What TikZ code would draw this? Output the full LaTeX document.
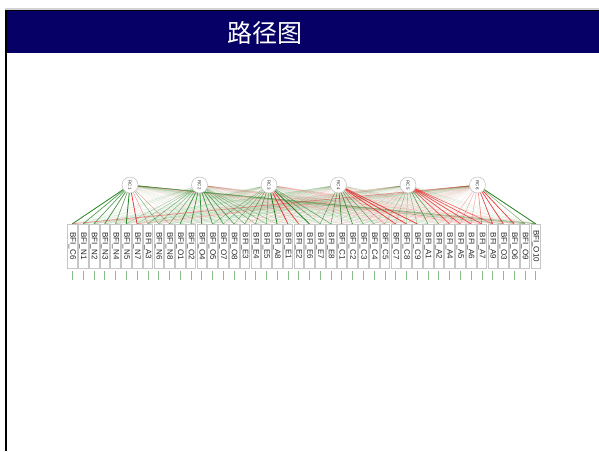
\documentclass[tikz,border=0pt]{standalone}
\usepackage{fontspec}
\setmainfont{Liberation Sans}
\newfontfamily\cjk{Noto Sans CJK SC}
\usetikzlibrary{backgrounds}
\definecolor{navy}{RGB}{6,0,102}
\definecolor{posc}{RGB}{20,125,20}
\definecolor{negc}{RGB}{232,30,30}
\tikzset{
  itembox/.style={draw=gray!45, fill=white, minimum width=9.6pt, minimum height=44pt, inner sep=0pt,
    font=\fontsize{8}{8}\selectfont, text=black!85},
  rcnode/.style={circle, draw=gray!60, fill=white, minimum size=16pt, inner sep=0pt,
    font=\fontsize{4.5}{4.5}\selectfont, text=black!80},
  resid/.style={posc, opacity=0.5, line width=0.5pt},
  weak/.style={line width=0.4pt}
}
\begin{document}
\begin{tikzpicture}[x=1pt,y=-1pt]
\useasboundingbox (0,0) rectangle (599,451);
% frame and title bar
\fill[gray!35] (5,8.4) rectangle (599,9.5);
\fill[black] (5,9.5) rectangle (599,11.3);
\fill[navy] (7,11.3) rectangle (599,52.7);
\fill[black] (5,9.5) rectangle (7,451);
\node[text=white, font=\cjk\fontsize{25}{25}\selectfont] (title) at (265,32.5) {路径图};
% latent nodes
\foreach \i/\x in {1/130,2/199.5,3/269,4/338.5,5/408,6/477.5}
  \node[rcnode] (r\i) at (\x,185) {\rotatebox{-90}{RC\i}};
% manifest boxes
\foreach \lab [count=\i] in {C6,N1,N2,N3,N4,N5,N7,A3,N6,N8,O1,O2,O4,O5,O7,O8,E3,E4,E5,A8,E1,E2,E6,E7,E8,C1,C2,C3,C4,C5,C7,C8,C9,A1,A2,A4,A5,A6,A7,A9,O3,O6,O9,O10}
  \node[itembox] (b\i) at ({67+10.773*(\i-0.5)},246) {\rotatebox{-90}{BFI\_\lab}};
% residual ticks
\foreach \j in {1,...,44}
  \draw[resid] ([yshift=-3pt]b\j.south) -- ([yshift=-12pt]b\j.south);
\begin{pgfonlayer}{background}
\pgfmathsetseed{42}
\foreach \i in {1,...,6}{
  \foreach \j in {1,...,44}{
    \pgfmathsetmacro{\op}{0.05+0.17*rnd}
    \pgfmathsetmacro{\sg}{rnd<0.6?1:0}
    \ifdim\sg pt>0.5pt \def\cc{posc}\else\def\cc{negc}\fi
    \draw[weak, \cc, opacity=\op] (r\i) -- (b\j.north);
  }
}
\foreach \i/\j/\c/\s in {
  1/1/posc/0.9, 1/2/posc/0.7, 1/3/posc/0.65, 1/4/posc/0.75, 1/5/posc/0.6, 1/6/posc/0.9,
  1/7/negc/0.85, 1/8/negc/0.35, 1/9/posc/0.4, 1/10/negc/0.35,
  1/41/posc/0.3, 1/43/posc/0.35, 1/44/posc/0.45,
  2/6/posc/0.3, 2/7/posc/0.3, 2/8/posc/0.45, 2/9/posc/0.4, 2/10/posc/0.5,
  2/11/posc/0.75, 2/12/posc/0.75, 2/13/posc/0.8, 2/14/posc/0.75, 2/15/posc/0.7, 2/16/posc/0.6,
  2/17/posc/0.45, 2/18/posc/0.45, 2/19/posc/0.4, 2/20/posc/0.3,
  3/14/posc/0.35, 3/15/posc/0.3, 3/16/posc/0.35,
  3/17/posc/0.6, 3/18/posc/0.6, 3/19/posc/0.5, 3/20/posc/0.9, 3/21/negc/0.85, 3/22/negc/0.8,
  3/23/posc/0.9, 3/24/posc/0.5, 3/25/posc/0.5,
  4/24/posc/0.5, 4/25/posc/0.55, 4/26/posc/0.75, 4/27/posc/0.7, 4/28/posc/0.55, 4/29/posc/0.5,
  4/30/negc/0.45, 4/31/negc/0.8, 4/32/negc/0.85, 4/33/negc/0.8,
  5/30/posc/0.35, 5/31/posc/0.35, 5/32/posc/0.3, 5/33/posc/0.35, 5/34/posc/0.6, 5/35/posc/0.55,
  5/36/negc/0.7, 5/37/negc/0.7, 5/38/negc/0.75, 5/39/negc/0.7, 5/40/negc/0.6,
  6/1/negc/0.45, 6/7/negc/0.3, 6/36/negc/0.3, 6/37/negc/0.3, 6/38/negc/0.35,
  6/39/negc/0.5, 6/40/negc/0.75, 6/41/negc/0.8, 6/42/negc/0.8, 6/43/posc/0.45, 6/44/posc/0.9}
  \draw[\c, opacity=\s, line width={0.3pt+0.6pt*\s}] (r\i) -- (b\j.north);
\end{pgfonlayer}
\end{tikzpicture}
\end{document}
